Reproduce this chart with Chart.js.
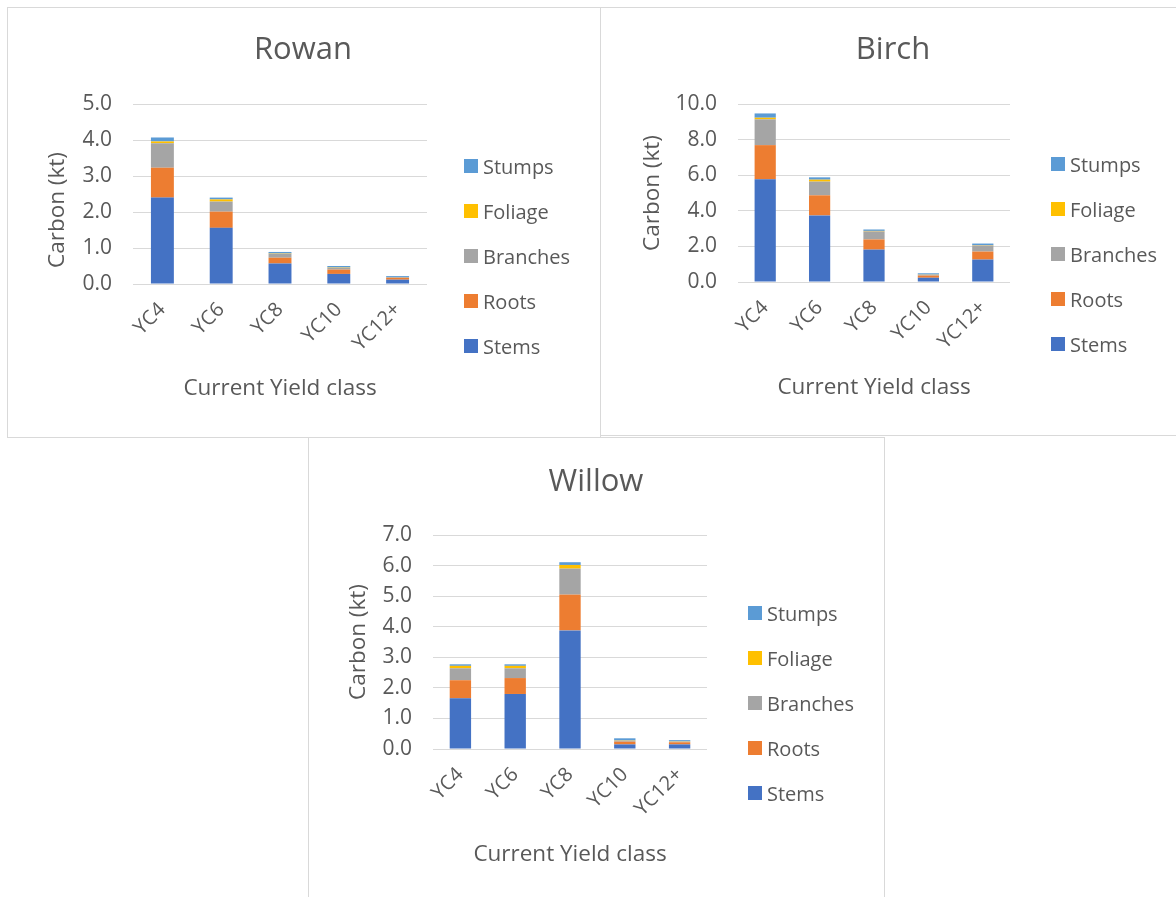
<!DOCTYPE html>
<html>
<head>
<meta charset="utf-8">
<script src="https://cdn.jsdelivr.net/npm/chart.js@4.4.1/dist/chart.umd.min.js"></script>
<style>
  html, body { margin: 0; padding: 0; background: #fff; overflow: hidden; }
  body { width: 1176px; height: 897px; position: relative; font-family: "Open Sans", sans-serif; }
  .panel { position: absolute; outline: 1px solid #d9d9d9; background: #fff; }
  .panel canvas { position: absolute; left: 0; top: 0; }
  .legend { position: absolute; color: #595959; font-size: 20px; }
  .legend div { height: 45px; display: flex; align-items: center; white-space: nowrap; }
  .legend span { display: inline-block; width: 14px; height: 14px; margin-right: 5px; }
</style>
</head>
<body>
<div class="panel" id="rowan_panel"><canvas id="rowan_chart"></canvas></div>
<div class="panel" id="birch_panel"><canvas id="birch_chart"></canvas></div>
<div class="panel" id="willow_panel"><canvas id="willow_chart"></canvas></div>

<script>
// yield classes and carbon pools
const categories = ['YC4', 'YC6', 'YC8', 'YC10', 'YC12+'];
const seriesNames = ['Stems', 'Roots', 'Branches', 'Foliage', 'Stumps'];
const seriesColors = ['#4472C4', '#ED7D31', '#A5A5A5', '#FFC000', '#5B9BD5'];

// Rowan (kt carbon)
const rowanStems = [2.40, 1.56, 0.57, 0.28, 0.12];
const rowanRoots = [0.83, 0.45, 0.16, 0.12, 0.05];
const rowanBranches = [0.68, 0.28, 0.11, 0.05, 0.02];
const rowanFoliage = [0.05, 0.06, 0.01, 0.01, 0.005];
const rowanStumps = [0.11, 0.05, 0.04, 0.04, 0.025];
const rowanYMax = 5, rowanYStep = 1;

// Birch (kt carbon)
const birchStems = [5.77, 3.74, 1.82, 0.24, 1.26];
const birchRoots = [1.92, 1.13, 0.57, 0.12, 0.45];
const birchBranches = [1.45, 0.77, 0.45, 0.05, 0.34];
const birchFoliage = [0.09, 0.11, 0.03, 0.01, 0.02];
const birchStumps = [0.24, 0.13, 0.08, 0.07, 0.09];
const birchYMax = 10, birchYStep = 2;

// Willow (kt carbon)
const willowStems = [1.66, 1.80, 3.88, 0.15, 0.15];
const willowRoots = [0.59, 0.52, 1.17, 0.09, 0.07];
const willowBranches = [0.39, 0.32, 0.85, 0.03, 0.02];
const willowFoliage = [0.08, 0.08, 0.12, 0.01, 0.01];
const willowStumps = [0.05, 0.05, 0.09, 0.07, 0.04];
const willowYMax = 7, willowYStep = 1;

// panel frames and plot areas, page pixels
const rowanBox = { x: 8, y: 8, w: 592, h: 429, left: 133, right: 427, top: 104, bottom: 284,
  titleX: 303, titleY: 50, yTitleX: 58, yTitleY: 210, xTitleY: 389, legendX: 464, legendY: 166 };
const birchBox = { x: 601, y: 8, w: 585, h: 427, left: 738, right: 1010, top: 104, bottom: 282,
  titleX: 893, titleY: 50, yTitleX: 653, yTitleY: 193, xTitleY: 388, legendX: 1051, legendY: 164 };
const willowBox = { x: 309, y: 438, w: 575, h: 460, left: 433, right: 707, top: 535, bottom: 749,
  titleX: 596, titleY: 482, yTitleX: 359, yTitleY: 642, xTitleY: 855, legendX: 748, legendY: 613 };

const textColor = '#595959';
const fontFamily = 'Open Sans';
const tickSize = 21;
const labelSize = 20;
const axisTitleSize = 22.5;
const titleSize = 31;

// chart title and rotated y caption, placed from the panel layout
const captions = {
  id: 'captions',
  afterDraw(chart, args, opts) {
    const ctx = chart.ctx;
    ctx.save();
    ctx.fillStyle = textColor;
    ctx.textAlign = 'center';
    ctx.textBaseline = 'middle';
    ctx.font = titleSize + 'px "' + fontFamily + '"';
    ctx.fillText(opts.title, opts.titleX, opts.titleY);
    ctx.translate(opts.yX, opts.yY);
    ctx.rotate(-Math.PI / 2);
    ctx.font = axisTitleSize + 'px "' + fontFamily + '"';
    ctx.fillText(opts.yText, 0, 0);
    ctx.restore();
  }
};

function drawLegend(box) {
  let legend = document.createElement('div');
  legend.className = 'legend';
  legend.style.left = box.legendX + 'px';
  legend.style.top = (box.legendY - 22.5) + 'px';
  // top of the stack is listed first
  for (let i = seriesNames.length - 1; i >= 0; i--) {
    let row = document.createElement('div');
    let swatch = document.createElement('span');
    swatch.style.background = seriesColors[i];
    row.appendChild(swatch);
    row.appendChild(document.createTextNode(seriesNames[i]));
    legend.appendChild(row);
  }
  document.body.appendChild(legend);
}

function drawPanel(id, name, box, values, yMax, yStep) {
  let panel = document.getElementById(id + '_panel');
  panel.style.left = box.x + 'px';
  panel.style.top = box.y + 'px';
  panel.style.width = box.w + 'px';
  panel.style.height = box.h + 'px';

  let canvas = document.getElementById(id + '_chart');
  canvas.width = box.w;
  canvas.height = box.h;

  const axisLine = axisTitleSize * 1.2;
  const padBottom = box.y + box.h - (box.xTitleY + 4 + axisLine / 2);
  const xHeight = box.y + box.h - padBottom - box.bottom;

  let datasets = values.map(function (data, i) {
    return {
      label: seriesNames[i],
      data: data,
      backgroundColor: seriesColors[i],
      borderWidth: 0,
      barPercentage: 0.39,
      categoryPercentage: 1
    };
  });

  new Chart(canvas, {
    type: 'bar',
    data: { labels: categories, datasets: datasets },
    options: {
      responsive: false,
      animation: false,
      layout: {
        padding: { left: 0, right: box.x + box.w - box.right, top: box.top - box.y, bottom: padBottom }
      },
      plugins: {
        legend: { display: false },
        tooltip: { enabled: false },
        title: { display: false },
        captions: {
          title: name,
          titleX: box.titleX - box.x,
          titleY: box.titleY - box.y,
          yText: 'Carbon (kt)',
          yX: box.yTitleX - box.x,
          yY: box.yTitleY - box.y
        }
      },
      scales: {
        x: {
          stacked: true,
          grid: { display: false },
          border: { display: false },
          ticks: {
            minRotation: 45,
            maxRotation: 45,
            padding: 6,
            color: textColor,
            font: { family: fontFamily, size: labelSize }
          },
          title: {
            display: true,
            text: 'Current Yield class',
            color: textColor,
            font: { family: fontFamily, size: axisTitleSize },
            padding: 4
          },
          afterFit: function (scale) { scale.height = xHeight; }
        },
        y: {
          stacked: true,
          min: 0,
          max: yMax,
          grid: { color: '#D9D9D9', drawTicks: false },
          border: { display: false },
          ticks: {
            stepSize: yStep,
            padding: 21,
            color: textColor,
            font: { family: fontFamily, size: tickSize },
            callback: function (v) { return v.toFixed(1); }
          },
          afterFit: function (scale) { scale.width = box.left - box.x; }
        }
      }
    },
    plugins: [captions]
  });

  drawLegend(box);
}

drawPanel('rowan', 'Rowan', rowanBox,
  [rowanStems, rowanRoots, rowanBranches, rowanFoliage, rowanStumps], rowanYMax, rowanYStep);
drawPanel('birch', 'Birch', birchBox,
  [birchStems, birchRoots, birchBranches, birchFoliage, birchStumps], birchYMax, birchYStep);
drawPanel('willow', 'Willow', willowBox,
  [willowStems, willowRoots, willowBranches, willowFoliage, willowStumps], willowYMax, willowYStep);
</script>
</body>
</html>
